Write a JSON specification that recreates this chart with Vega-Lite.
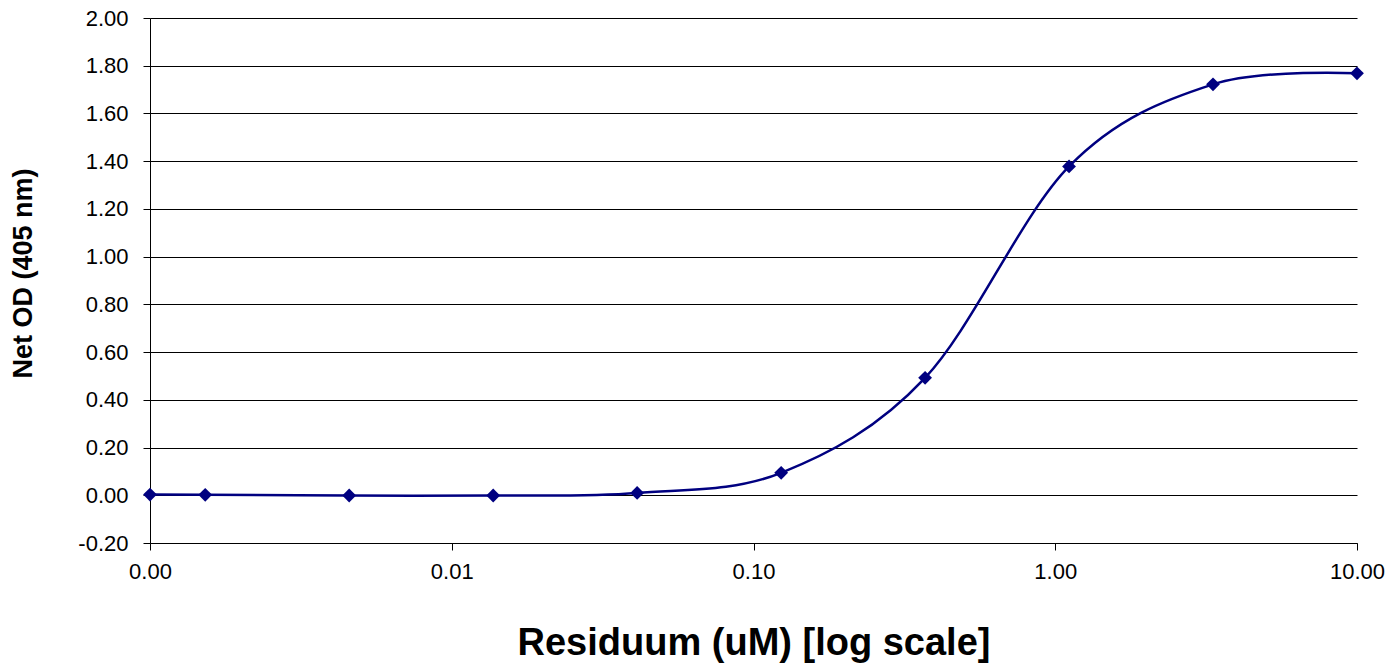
{
  "$schema": "https://vega.github.io/schema/vega-lite/v6.json",
  "autosize": {"type": "none"},
  "padding": {"left": 150, "top": 18, "right": 37, "bottom": 125},
  "width": 1207,
  "height": 525,
  "background": "white",
  "config": {
    "font": "Liberation Sans",
    "view": {"stroke": null},
    "axis": {
      "labelFont": "Liberation Sans",
      "titleFont": "Liberation Sans",
      "labelColor": "black",
      "titleColor": "black",
      "domainColor": "black",
      "tickColor": "black",
      "gridColor": "black",
      "gridOpacity": 1,
      "gridWidth": 1,
      "domainWidth": 1,
      "tickWidth": 1,
      "tickSize": 7,
      "labelFontSize": 22,
      "labelFlush": false,
      "labelOverlap": false
    }
  },
  "data": {
    "values": [
      {"conc": 0.001, "od": 0.003},
      {"conc": 0.001524, "od": 0.002},
      {"conc": 0.004572, "od": -0.001},
      {"conc": 0.01372, "od": -0.001},
      {"conc": 0.04115, "od": 0.01},
      {"conc": 0.1235, "od": 0.094},
      {"conc": 0.3704, "od": 0.492},
      {"conc": 1.111, "od": 1.378},
      {"conc": 3.333, "od": 1.722},
      {"conc": 10, "od": 1.768}
    ]
  },
  "encoding": {
    "x": {
      "field": "conc",
      "type": "quantitative",
      "scale": {"type": "log", "domain": [0.001, 10], "nice": false},
      "axis": {
        "values": [0.001, 0.01, 0.1, 1, 10],
        "format": ".2f",
        "grid": false,
        "labelPadding": 11,
        "title": "Residuum (uM) [log scale]",
        "titleFontSize": 38,
        "titleFontWeight": "bold",
        "titlePadding": 42
      }
    },
    "y": {
      "field": "od",
      "type": "quantitative",
      "scale": {"domain": [-0.2, 2.0], "nice": false, "zero": false},
      "axis": {
        "values": [-0.2, 0, 0.2, 0.4, 0.6, 0.8, 1.0, 1.2, 1.4, 1.6, 1.8, 2.0],
        "format": ".2f",
        "labelExpr": "replace(datum.label, '−', '-')",
        "grid": true,
        "labelPadding": 15,
        "title": "Net OD (405 nm)",
        "titleFontSize": 27,
        "titleFontWeight": "bold",
        "titlePadding": 40,
        "titleY": 255
      }
    }
  },
  "layer": [
    {
      "mark": {"type": "line", "color": "#000080", "strokeWidth": 2.5, "interpolate": "cardinal"}
    },
    {
      "mark": {"type": "point", "shape": "diamond", "filled": true, "color": "#000080", "opacity": 1, "size": 190}
    }
  ]
}
